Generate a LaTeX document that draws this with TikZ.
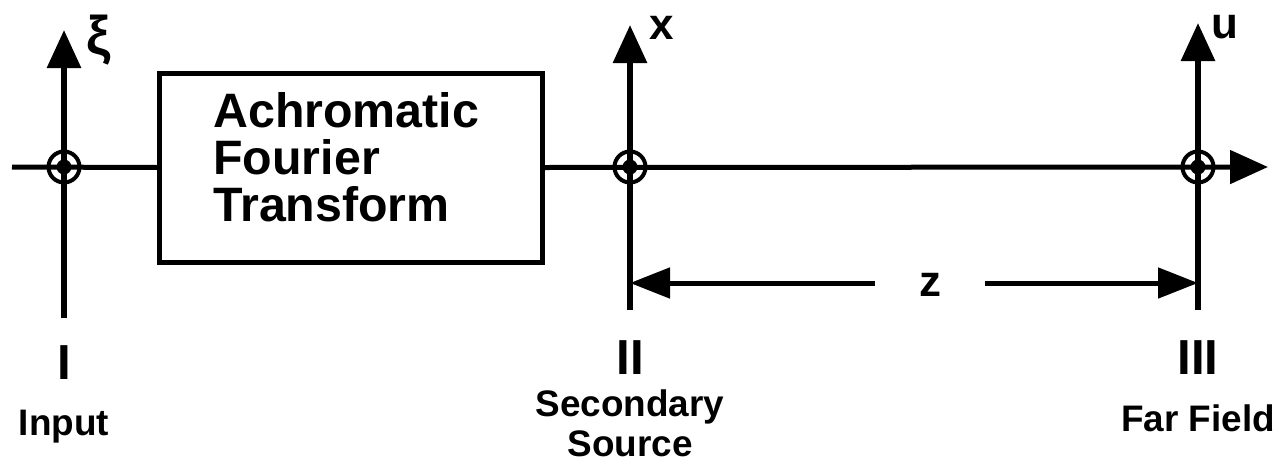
\documentclass[tikz,border=0pt]{standalone}
\usepackage{fontspec}
\setsansfont{Liberation Sans}
\usetikzlibrary{arrows.meta,positioning}

\begin{document}
\begin{tikzpicture}[
  x=0.2mm, y=-0.2mm,
  font=\sffamily\bfseries,
  axis/.style={line width=1.2mm, -{Triangle[length=7.6mm,width=6.6mm]}},
  rail/.style={line width=1mm},
  plane/.style={circle, draw, line width=0.8mm, minimum size=6.2mm, inner sep=0pt},
  dim/.style={line width=1mm, -{Triangle[length=8mm,width=6mm]}},
  ftbox/.style={draw, line width=1mm, minimum width=76.4mm, minimum height=37.8mm},
  numeral/.style={inner sep=0pt, font=\sffamily\bfseries\fontsize{28}{30}\selectfont},
  caption/.style={inner sep=0pt, align=center, font=\sffamily\bfseries\fontsize{21}{22.8}\selectfont},
  axlabel/.style={inner sep=0pt, font=\sffamily\bfseries\fontsize{25}{27}\selectfont}
]
\useasboundingbox (0,0) rectangle (1283,468);

\coordinate (o1) at (64,167);
\coordinate (o2) at (630,167);
\coordinate (o3) at (1198,167);
\coordinate (b1) at (64,318);
\coordinate (t1) at (64,30);
\coordinate (b2) at (630,310);
\coordinate (t2) at (630,25);
\coordinate (b3) at (1198,310);
\coordinate (t3) at (1198,23);
\coordinate (start) at (12,167);
\coordinate (end) at (1268,167);

\node[ftbox] (aft) at (351,167.5) {};
\node[anchor=north west, inner sep=0pt, align=left,
  font=\sffamily\bfseries\fontsize{27.5}{26.8}\selectfont] (aftlabel) at (213,92)
  {Achromatic\\Fourier\\Transform};

\draw[rail] (start) -- (aft.west);
\draw[axis, line width=1mm] (aft.east) -- (end);
\foreach \i in {1,2,3}
  \draw[axis] (b\i) -- (t\i);
\foreach \i in {1,2,3}{
  \node[plane] (p\i) at (o\i) {};
  \fill (p\i) circle (1.5mm);
}

\node[axlabel, font=\sffamily\bfseries\fontsize{31}{33}\selectfont] (xi) at (99,40) {ξ};
\node[axlabel] (xl) at (662,28) {x};
\node[axlabel] (ul) at (1225,27) {u};

\coordinate (d2) at (630,283);
\coordinate (d3) at (1198,283);
\node[axlabel, minimum width=22mm] (zl) at (930,285) {z};
\draw[dim] (zl.west |- d2) -- (d2);
\draw[dim] (zl.east |- d3) -- (d3);

\node[numeral, below=5.4mm of b1] (n1) {I};
\node[numeral, below=6mm of b2] (n2) {II};
\node[numeral, below=6mm of b3] (n3) {III};

\node[caption, below=6mm of n1] (inlab) {Input};
\node[caption, below=3mm of n2] (sslab) {Secondary\\Source};
\node[caption, below=6mm of n3] (fflab) {Far Field};
\end{tikzpicture}
\end{document}
